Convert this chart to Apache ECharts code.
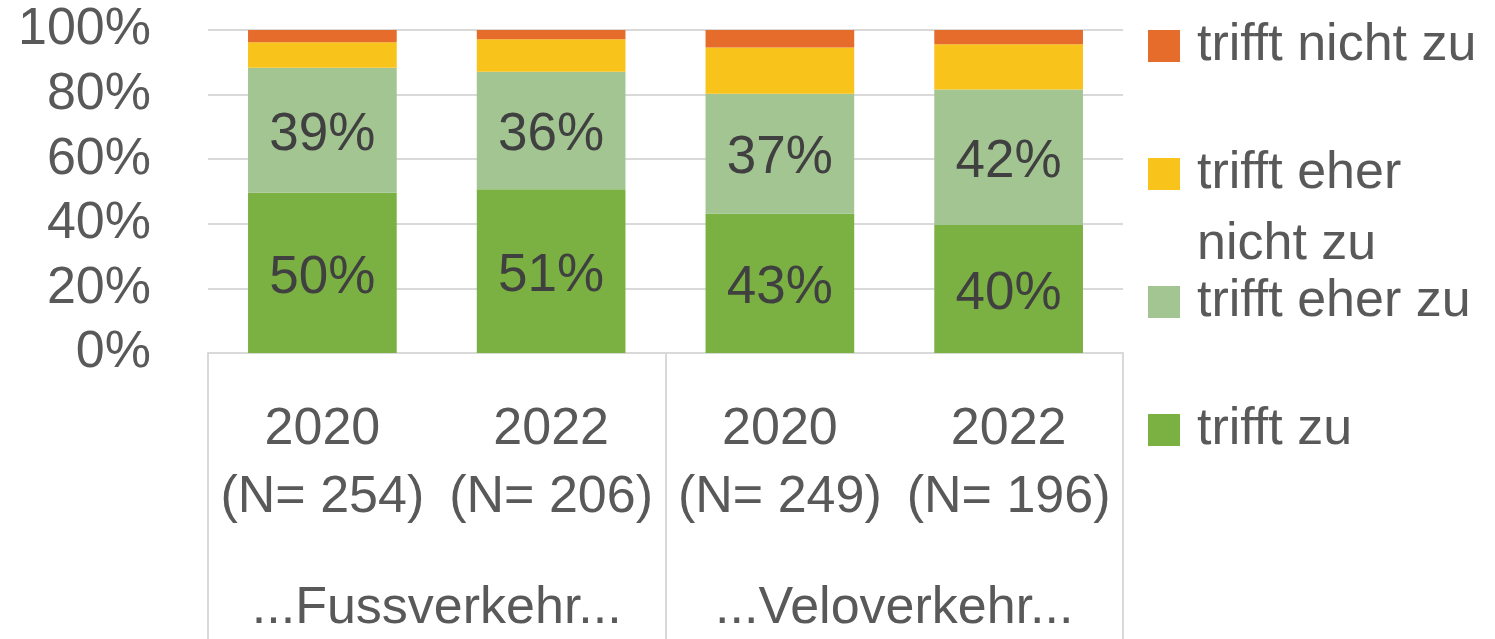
<!DOCTYPE html>
<html lang="de">
  <head>
    <meta charset="UTF-8" />
    <title>Fuss- und Veloverkehr</title>
    <style>
      html, body { margin: 0; padding: 0; background: #fff; }
      #chart { width: 1495px; height: 639px; }
    </style>
    <script src="https://cdn.jsdelivr.net/npm/echarts@6/dist/echarts.min.js"></script>
  </head>
  <body>
    <div id="chart"></div>
    <script>
      // Daten (Anteile in %)
      const years = ['2020', '2022', '2020', '2022']
      const sampleSizes = [254, 206, 249, 196]
      const groups = ['...Fussverkehr...', '...Veloverkehr...']
      const yTicks = [0, 20, 40, 60, 80, 100]

      const trifftZu = [49.6, 50.7, 43.1, 39.6]
      const trifftEherZu = [38.7, 36.4, 37.2, 42.0]
      const trifftEherNichtZu = [7.9, 10.0, 14.3, 14.0]
      const trifftNichtZu = [3.8, 2.9, 5.4, 4.4]

      const font = 'Liberation Sans, Arial, sans-serif'
      const grey = '#595959'
      const gridGrey = '#d9d9d9'

      const categories = years.map((y, i) => y + '\n(N= ' + sampleSizes[i] + ')')

      const labelOpt = {
        show: true,
        position: 'inside',
        offset: [0, 5],
        color: '#404040',
        fontFamily: font,
        fontSize: 53,
        formatter: p => Math.round(p.value) + '%'
      }

      const makeSeries = (name, data, color, label) => ({
        name: name,
        type: 'bar',
        stack: 'total',
        data: data,
        barCategoryGap: '35%',
        itemStyle: { color: color },
        label: label ? labelOpt : { show: false },
        emphasis: { disabled: true }
      })

      // leere erste Zeile, damit das Symbol bei "trifft eher" sitzt
      const legendText = n => n === 'trifft eher nicht zu' ? '\ntrifft eher\nnicht zu' : n

      const legendItem = (name, top) => ({
        data: [name],
        orient: 'vertical',
        left: 1148,
        top: top,
        padding: 0,
        itemWidth: 32,
        itemHeight: 32,
        selectedMode: false,
        icon: 'rect',
        formatter: legendText,
        textStyle: {
          color: grey,
          fontFamily: font,
          fontSize: 52,
          lineHeight: 71,
          padding: [0, 0, 0, 12]
        }
      })

      const chart = echarts.init(document.getElementById('chart'))

      chart.setOption({
        animation: false,
        grid: { left: 208, right: 372, top: 30, bottom: 283 },
        legend: [
          legendItem('trifft nicht zu', 10.5),
          legendItem('trifft eher nicht zu', 67.5),
          legendItem('trifft eher zu', 266.5),
          legendItem('trifft zu', 394.5)
        ],
        xAxis: [
          {
            type: 'category',
            data: categories,
            position: 'bottom',
            axisLine: { show: true, lineStyle: { color: gridGrey, width: 2 } },
            axisTick: { show: false },
            axisLabel: {
              color: grey,
              fontFamily: font,
              fontSize: 52,
              lineHeight: 68,
              margin: 43,
              interval: 0
            }
          },
          {
            type: 'category',
            data: groups,
            position: 'bottom',
            axisLine: { show: false },
            axisTick: {
              show: true,
              length: 290,
              lineStyle: { color: gridGrey, width: 2 }
            },
            axisLabel: {
              color: grey,
              fontFamily: font,
              fontSize: 52,
              lineHeight: 60,
              margin: 226,
              interval: 0
            }
          }
        ],
        yAxis: {
          type: 'value',
          min: yTicks[0],
          max: yTicks[yTicks.length - 1],
          interval: 20,
          axisLine: { show: false },
          axisTick: { show: false },
          splitLine: { lineStyle: { color: gridGrey, width: 2 } },
          axisLabel: {
            color: grey,
            fontFamily: font,
            fontSize: 52,
            margin: 57,
            formatter: '{value}%'
          }
        },
        series: [
          makeSeries('trifft zu', trifftZu, '#7bb142', true),
          makeSeries('trifft eher zu', trifftEherZu, '#a3c592', true),
          makeSeries('trifft eher nicht zu', trifftEherNichtZu, '#f8c31a', false),
          makeSeries('trifft nicht zu', trifftNichtZu, '#e66c2b', false)
        ]
      })
    </script>
  </body>
</html>
